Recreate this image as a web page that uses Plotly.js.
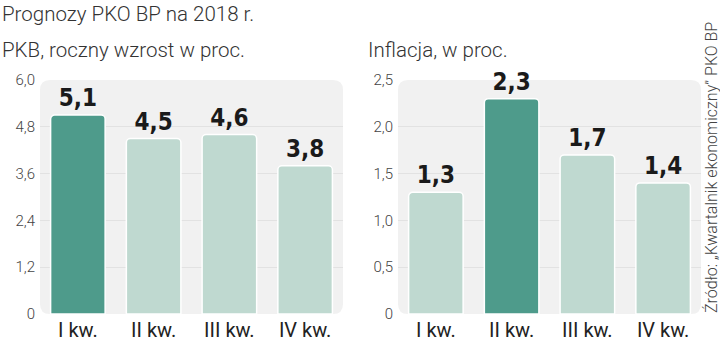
<!DOCTYPE html>
<html>
<head>
<meta charset="utf-8">
<script src="https://cdn.plot.ly/plotly-3.0.1.min.js"></script>
<style>
html,body{margin:0;padding:0;background:#fff;}
#chart{width:720px;height:343px;}
</style>
</head>
<body>
<div id="chart"></div>
<script>
// Data
const categories = ['I kw.', 'II kw.', 'III kw.', 'IV kw.'];
const pkbValues = [5.1, 4.5, 4.6, 3.8];
const inflValues = [1.3, 2.3, 1.7, 1.4];
const pkbHighlight = [true, false, false, false];
const inflHighlight = [false, true, false, false];
const pkbTickVals = [0, 1.2, 2.4, 3.6, 4.8, 6.0];
const pkbTickText = ['0', '1,2', '2,4', '3,6', '4,8', '6,0'];
const inflTickVals = [0, 0.5, 1.0, 1.5, 2.0, 2.5];
const inflTickText = ['0', '0,5', '1,0', '1,5', '2,0', '2,5'];

const dark = '#4e9b8b';
const light = '#bfd9d0';
const labelFont = {family: 'DejaVu Sans Condensed, Roboto, sans-serif', size: 24, color: '#1a1a1a', weight: 'bold'};

function colors(h){ return h.map(v => v ? dark : light); }

const traces = [
  {
    type: 'bar', x: categories, y: pkbValues, xaxis: 'x', yaxis: 'y',
    marker: {color: colors(pkbHighlight), line: {color: '#ffffff', width: 1.5}, cornerradius: 4},
    texttemplate: '%{y:.1f}', textposition: 'outside', cliponaxis: false,
    textfont: labelFont, hoverinfo: 'none'
  },
  {
    type: 'bar', x: categories, y: inflValues, xaxis: 'x2', yaxis: 'y2',
    marker: {color: colors(inflHighlight), line: {color: '#ffffff', width: 1.5}, cornerradius: 4},
    texttemplate: '%{y:.1f}', textposition: 'outside', cliponaxis: false,
    textfont: labelFont, hoverinfo: 'none'
  }
];

const W = 720, H = 343;
const x1 = [40/W, 343/W], x2 = [398/W, 701/W];
const yd = [(H-314)/H, (H-80)/H];

function roundedPath(xd, ydm, r){
  const x0 = xd[0], xa = xd[1], y0 = ydm[0], ya = ydm[1];
  const rx = r / W, ry = r / H;
  return `M ${x0+rx},${ya} L ${xa-rx},${ya} Q ${xa},${ya} ${xa},${ya-ry} L ${xa},${y0+ry} Q ${xa},${y0} ${xa-rx},${y0} L ${x0+rx},${y0} Q ${x0},${y0} ${x0},${y0+ry} L ${x0},${ya-ry} Q ${x0},${ya} ${x0+rx},${ya} Z`;
}

const tickFont = {family: 'Roboto, sans-serif', size: 15, color: '#444', weight: 300};
const xTickFont = {family: 'Roboto, sans-serif', size: 20, color: '#222', weight: 400};
const titleFont = {family: 'Roboto, sans-serif', size: 20.5, color: '#333', weight: 300};

const layout = {
  width: W, height: H,
  margin: {l: 0, r: 0, t: 0, b: 0},
  paper_bgcolor: '#ffffff',
  plot_bgcolor: 'rgba(0,0,0,0)',
  separators: ', ',
  showlegend: false,
  bargap: 0.28,
  xaxis: {domain: x1, anchor: 'y', tickfont: xTickFont, showgrid: false, zeroline: false, showline: false, ticks: '', ticklabelstandoff: 2},
  yaxis: {domain: yd, anchor: 'x', range: [0, 6.0], tickvals: pkbTickVals, ticktext: pkbTickText, tickfont: tickFont,
          showgrid: true, gridcolor: '#e2e2e2', gridwidth: 1, zeroline: false, showline: false, ticks: '', ticklabelstandoff: 4},
  xaxis2: {domain: x2, anchor: 'y2', tickfont: xTickFont, showgrid: false, zeroline: false, showline: false, ticks: '', ticklabelstandoff: 2},
  yaxis2: {domain: yd, anchor: 'x2', range: [0, 2.5], tickvals: inflTickVals, ticktext: inflTickText, tickfont: tickFont,
          showgrid: true, gridcolor: '#e2e2e2', gridwidth: 1, zeroline: false, showline: false, ticks: '', ticklabelstandoff: 4},
  shapes: [
    {type: 'path', xref: 'paper', yref: 'paper', path: roundedPath(x1, yd, 10), fillcolor: '#f1f1f1', line: {width: 0}, layer: 'below'},
    {type: 'path', xref: 'paper', yref: 'paper', path: roundedPath(x2, yd, 10), fillcolor: '#f1f1f1', line: {width: 0}, layer: 'below'}
  ],
  annotations: [
    {text: 'Prognozy PKO BP na 2018 r.', xref: 'paper', yref: 'paper', x: 0, y: (H-14)/H, xanchor: 'left', yanchor: 'middle', showarrow: false,
     font: titleFont},
    {text: 'PKB, roczny wzrost w proc.', xref: 'paper', yref: 'paper', x: 0, y: (H-50)/H, xanchor: 'left', yanchor: 'middle', showarrow: false,
     font: titleFont},
    {text: 'Inflacja, w proc.', xref: 'paper', yref: 'paper', x: 366/W, y: (H-50)/H, xanchor: 'left', yanchor: 'middle', showarrow: false,
     font: titleFont},
    {text: 'Źródło: „Kwartalnik ekonomiczny” PKO BP', xref: 'paper', yref: 'paper', x: 711/W, y: (H-168)/H, xanchor: 'center', yanchor: 'middle', showarrow: false,
     textangle: -90, borderpad: 0, font: {family: 'Roboto, sans-serif', size: 16, color: '#444', weight: 300}}
  ]
};

Plotly.newPlot('chart', traces, layout, {displayModeBar: false, staticPlot: true});
</script>
</body>
</html>
